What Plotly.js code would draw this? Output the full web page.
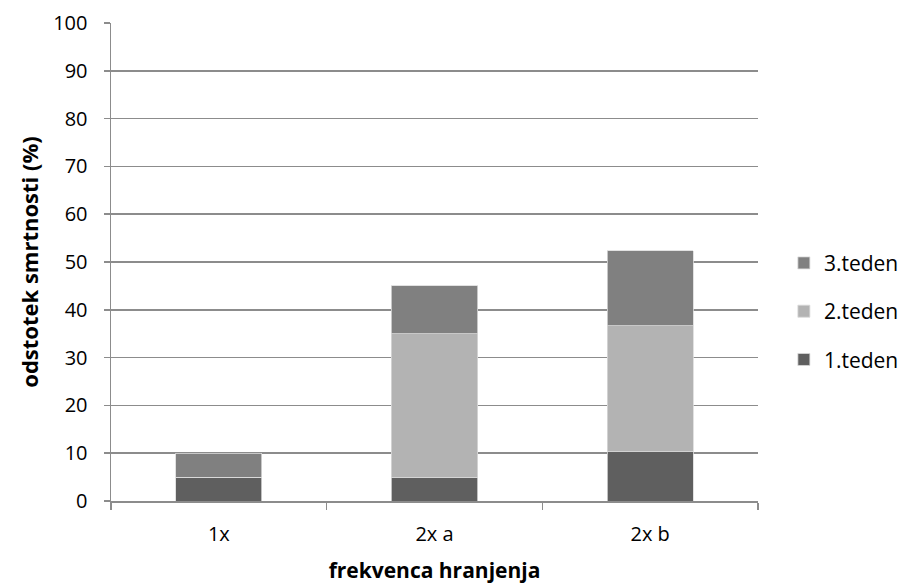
<!DOCTYPE html>
<html>
<head>
<meta charset="utf-8">
<script src="https://cdn.plot.ly/plotly-3.0.1.min.js"></script>
<style>html,body{margin:0;padding:0;background:#fff;}#chart{width:905px;height:587px;}</style>
</head>
<body>
<div id="chart"></div>
<script>
// feeding frequency groups
const categories = ['1x', '2x a', '2x b'];
// mortality (%) per week, stacked
const week1 = [5, 5, 10.3];
const week2 = [0, 30, 26.4];
const week3 = [5, 10, 15.7];
const seriesNames = ['1.teden', '2.teden', '3.teden'];
const yTicks = [0, 10, 20, 30, 40, 50, 60, 70, 80, 90, 100];

const colors = ['#5f5f5f', '#b3b3b3', '#808080'];
const values = [week1, week2, week3];

// later weeks are listed first in the legend
const traces = values.map((v, i) => ({
  type: 'bar',
  name: seriesNames[i],
  legendgroup: 'g' + i,
  legendrank: 10 - i,
  x: categories,
  y: v,
  marker: {color: colors[i], line: {color: '#d9d9d9', width: 0.8}},
  hoverinfo: 'x+y+name'
}));

const font = "'Open Sans', 'Liberation Sans', sans-serif";

const layout = {
  width: 905,
  height: 587,
  barmode: 'stack',
  bargap: 0.6,
  paper_bgcolor: '#ffffff',
  plot_bgcolor: '#ffffff',
  margin: {l: 111, r: 147, t: 23, b: 86, autoexpand: false},
  font: {family: font, size: 20, color: '#000'},
  xaxis: {
    type: 'category',
    tickson: 'boundaries',
    ticks: 'outside',
    ticklen: 7,
    tickcolor: '#8c8c8c',
    tickwidth: 1.5,
    showline: true,
    linecolor: '#8c8c8c',
    linewidth: 1.5,
    showgrid: false,
    ticklabelstandoff: 14,
    tickfont: {size: 20},
    title: {text: '<b>frekvenca hranjenja</b>', font: {size: 21}, standoff: 18}
  },
  yaxis: {
    range: [0, 100],
    tickvals: yTicks,
    ticks: 'outside',
    ticklen: 6,
    tickcolor: '#8c8c8c',
    tickwidth: 1.5,
    showline: true,
    linecolor: '#8c8c8c',
    linewidth: 1.5,
    showgrid: true,
    gridcolor: '#8c8c8c',
    gridwidth: 1.5,
    zeroline: false,
    ticklabelstandoff: 12,
    tickfont: {size: 20},
    title: {text: '<b>odstotek smrtnosti (%)</b>', font: {size: 22}, standoff: 8}
  },
  legend: {
    x: 1.04,
    xanchor: 'left',
    y: 0.397,
    yanchor: 'middle',
    traceorder: 'grouped',
    font: {size: 21},
    itemwidth: 30,
    tracegroupgap: 18,
    bgcolor: 'rgba(0,0,0,0)'
  },
  showlegend: true
};

Plotly.newPlot('chart', traces, layout, {displayModeBar: false, staticPlot: true});
</script>
</body>
</html>
